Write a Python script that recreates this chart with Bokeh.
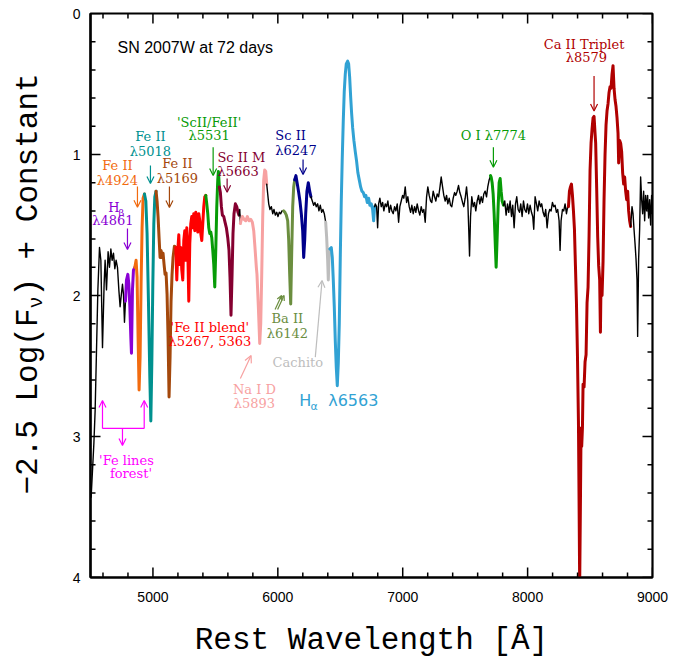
import math
from bokeh.plotting import figure
from bokeh.layouts import row
from bokeh.models import Range1d, FixedTicker, Label, Arrow, OpenHead
from bokeh.core.properties import value
from bokeh.embed import file_html
from bokeh.resources import INLINE

# ---------------- data (rest wavelength [A], -2.5 log F + const) ----------------
wl_black1 = [4505, 4516, 4527, 4537, 4548, 4559, 4572, 4583, 4596, 4609, 4617, 4628, 4641, 4652, 4663, 4673, 4684, 4695, 4705, 4716, 4727, 4737, 4745, 4756, 4764, 4772, 4780]
fx_black1 = [3.43, 3.24, 3.05, 2.82, 2.39, 1.96, 1.66, 1.75, 2.37, 1.92, 1.75, 1.96, 1.69, 1.80, 1.67, 1.75, 1.70, 1.81, 1.75, 1.80, 1.96, 2.08, 2.01, 1.92, 1.99, 2.19, 2.04]
wl_hbeta = [4780, 4788, 4799, 4807, 4815, 4823, 4828, 4836, 4844, 4855]
fx_hbeta = [2.04, 1.89, 1.85, 1.92, 2.08, 2.30, 2.41, 1.96, 1.82, 1.80]
wl_fe4924 = [4855, 4865, 4873, 4881, 4889, 4897, 4905, 4913, 4921, 4932]
fx_fe4924 = [1.80, 1.75, 1.87, 2.30, 2.67, 2.44, 1.92, 1.52, 1.31, 1.28]
wl_fe5018 = [4932, 4943, 4953, 4964, 4975, 4983, 4991, 4999, 5007, 5015, 5025]
fx_fe5018 = [1.28, 1.33, 1.56, 2.04, 2.58, 2.89, 2.48, 1.92, 1.49, 1.30, 1.26]
wl_fe5169 = [5025, 5033, 5041, 5049, 5057, 5065, 5073, 5081, 5089, 5097, 5105, 5113, 5121, 5129, 5137, 5145, 5153, 5161, 5172, 5183]
fx_fe5169 = [1.26, 1.33, 1.44, 1.59, 1.73, 1.68, 1.73, 1.70, 1.78, 1.85, 1.84, 1.99, 2.30, 2.72, 2.44, 2.04, 1.85, 1.73, 1.65, 1.66]
wl_feblend = [5183, 5191, 5199, 5207, 5215, 5223, 5231, 5239, 5247, 5255, 5263, 5271, 5279, 5287, 5295, 5303, 5311, 5319, 5327, 5335, 5343, 5351, 5359, 5367, 5375, 5383, 5391, 5399, 5407, 5415, 5423]
fx_feblend = [1.66, 1.89, 1.68, 1.57, 1.78, 1.66, 1.82, 1.89, 1.61, 1.54, 1.75, 1.52, 1.68, 2.04, 1.63, 1.49, 1.44, 1.52, 1.42, 1.54, 1.41, 1.47, 1.55, 1.42, 1.47, 1.56, 1.61, 1.49, 1.37, 1.30, 1.29]
wl_scfe = [5423, 5431, 5439, 5447, 5455, 5463, 5471, 5479, 5487, 5495, 5503, 5511, 5519, 5524, 5532]
fx_scfe = [1.29, 1.35, 1.42, 1.52, 1.56, 1.55, 1.59, 1.68, 1.78, 1.94, 1.68, 1.37, 1.18, 1.12, 1.23]
wl_sc5663 = [5532, 5540, 5548, 5556, 5567, 5577, 5588, 5599, 5609, 5617, 5625, 5633, 5641, 5649, 5660, 5671, 5681, 5689]
fx_sc5663 = [1.23, 1.27, 1.37, 1.43, 1.44, 1.48, 1.52, 1.59, 1.68, 1.87, 2.14, 1.87, 1.56, 1.42, 1.35, 1.37, 1.41, 1.43]
wl_black2 = [5689, 5695, 5700]
fx_black2 = [1.43, 1.39, 1.49]
wl_nad = [5700, 5705, 5716, 5729, 5743, 5756, 5769, 5783, 5796, 5807, 5817, 5828, 5833, 5844, 5855, 5863, 5871, 5879, 5887, 5895, 5903, 5911]
fx_nad = [1.49, 1.47, 1.44, 1.46, 1.47, 1.44, 1.47, 1.46, 1.48, 1.54, 1.66, 1.80, 1.85, 2.08, 2.34, 2.20, 1.85, 1.44, 1.18, 1.11, 1.12, 1.21]
wl_black3 = [5911, 5919, 5927, 5937, 5948, 5959, 5969, 5980, 5991, 6001, 6012, 6023, 6033, 6047]
fx_black3 = [1.21, 1.28, 1.35, 1.39, 1.37, 1.42, 1.39, 1.43, 1.41, 1.44, 1.41, 1.42, 1.40, 1.40]
wl_ba = [6047, 6057, 6068, 6079, 6087, 6095, 6103, 6111, 6119, 6127, 6135]
fx_ba = [1.40, 1.41, 1.43, 1.47, 1.61, 1.85, 2.06, 1.70, 1.37, 1.23, 1.18]
wl_sc6247 = [6135, 6145, 6156, 6167, 6177, 6188, 6199, 6207, 6215, 6223, 6233, 6244, 6255, 6265]
fx_sc6247 = [1.18, 1.15, 1.21, 1.27, 1.33, 1.42, 1.54, 1.73, 1.61, 1.42, 1.26, 1.20, 1.26, 1.30]
wl_black4 = [6265, 6276, 6287, 6297, 6308, 6319, 6329, 6340, 6351, 6361, 6372, 6383]
fx_black4 = [1.30, 1.33, 1.36, 1.34, 1.37, 1.35, 1.40, 1.36, 1.41, 1.39, 1.42, 1.48]
wl_cachito = [6383, 6391, 6399, 6404, 6409, 6417]
fx_cachito = [1.48, 1.59, 1.75, 1.89, 1.75, 1.67]
wl_halpha = [6417, 6428, 6436, 6444, 6452, 6460, 6468, 6476, 6484, 6492, 6500, 6508, 6516, 6524, 6532, 6540, 6548, 6559, 6567, 6575,
             6583, 6591, 6599, 6609, 6620, 6631, 6641, 6652, 6663, 6673, 6684, 6695, 6705, 6716, 6727, 6737, 6748, 6759, 6767, 6775]
fx_halpha = [1.67, 1.66, 1.73, 1.89, 2.08, 2.32, 2.51, 2.64, 2.48, 2.20, 1.73, 1.33, 1.02, 0.76, 0.55, 0.43, 0.357, 0.338, 0.357, 0.45,
             0.59, 0.71, 0.81, 0.90, 0.98, 1.05, 1.13, 1.18, 1.23, 1.26, 1.27, 1.30, 1.29, 1.34, 1.31, 1.36, 1.35, 1.39, 1.47, 1.37]
wl_black5 = [6775, 6780, 6791, 6799, 6807, 6817, 6828, 6839, 6849, 6860, 6871, 6881, 6892, 6903, 6913, 6924, 6935, 6945, 6956, 6967,
             6977, 6988, 6999, 7009, 7020, 7031, 7041, 7052, 7063, 7073, 7084, 7095, 7105, 7116, 7127, 7137, 7148, 7159, 7169, 7180,
             7191, 7201, 7212, 7223, 7233, 7244, 7255, 7265, 7276, 7287, 7297, 7308, 7319, 7329, 7340, 7351, 7361, 7372, 7383, 7393,
             7404, 7415, 7425, 7436, 7447, 7457, 7468, 7479, 7489, 7500, 7511, 7521, 7529, 7535, 7543, 7553, 7564, 7575, 7585, 7596,
             7607, 7617, 7628, 7639, 7649, 7660, 7671, 7681, 7692, 7703]
fx_black5 = [1.37, 1.35, 1.37, 1.52, 1.35, 1.31, 1.37, 1.34, 1.40, 1.35, 1.37, 1.33, 1.41, 1.36, 1.40, 1.42, 1.37, 1.40, 1.35, 1.48,
             1.37, 1.33, 1.29, 1.31, 1.23, 1.34, 1.30, 1.37, 1.41, 1.36, 1.42, 1.37, 1.41, 1.35, 1.40, 1.43, 1.37, 1.41, 1.39, 1.48,
             1.30, 1.23, 1.29, 1.33, 1.34, 1.26, 1.30, 1.33, 1.28, 1.30, 1.24, 1.16, 1.23, 1.29, 1.33, 1.29, 1.35, 1.31, 1.36, 1.37,
             1.31, 1.27, 1.29, 1.26, 1.22, 1.27, 1.30, 1.34, 1.37, 1.31, 1.23, 1.33, 1.54, 1.72, 1.44, 1.30, 1.37, 1.34, 1.40, 1.33,
             1.29, 1.35, 1.30, 1.34, 1.28, 1.26, 1.30, 1.23, 1.18, 1.15]
wl_oi = [7703, 7708, 7716, 7724, 7732, 7740, 7748, 7756, 7764, 7772, 7780, 7788, 7796, 7807]
fx_oi = [1.15, 1.16, 1.20, 1.28, 1.42, 1.61, 1.80, 1.59, 1.37, 1.20, 1.17, 1.26, 1.33, 1.36]
wl_black6 = [7807, 7817, 7828, 7839, 7849, 7860, 7871, 7881, 7892, 7903, 7913, 7924, 7935, 7945, 7956, 7967, 7977, 7988, 7999, 8009,
             8020, 8031, 8041, 8049, 8060, 8071, 8081, 8092, 8103, 8113, 8124, 8135, 8145, 8156, 8167, 8177, 8188, 8199, 8209, 8220,
             8231, 8241, 8252, 8260, 8268, 8279, 8289, 8300, 8311, 8321, 8327]
fx_black6 = [1.36, 1.33, 1.43, 1.35, 1.41, 1.33, 1.44, 1.36, 1.52, 1.35, 1.30, 1.39, 1.41, 1.35, 1.44, 1.33, 1.39, 1.41, 1.35, 1.42,
             1.36, 1.41, 1.44, 1.53, 1.30, 1.35, 1.40, 1.33, 1.37, 1.35, 1.41, 1.44, 1.39, 1.52, 1.42, 1.39, 1.40, 1.34, 1.37, 1.36,
             1.41, 1.39, 1.47, 1.68, 1.47, 1.39, 1.40, 1.35, 1.42, 1.37, 1.37]
wl_caii = [8327, 8335, 8343, 8351, 8359, 8367, 8375, 8383, 8391, 8399, 8407, 8412, 8417, 8423, 8428, 8433, 8439, 8444, 8452, 8460,
           8468, 8476, 8484, 8492, 8500, 8508, 8516, 8524, 8532, 8540, 8545, 8553, 8561, 8569, 8577, 8583, 8588, 8596, 8604, 8612,
           8620, 8628, 8636, 8644, 8652, 8660, 8668, 8676, 8684, 8692, 8700, 8708, 8716, 8724, 8729, 8737, 8745, 8753, 8761, 8769,
           8777, 8785, 8793, 8801, 8809, 8817, 8825]
fx_caii = [1.37, 1.26, 1.23, 1.21, 1.29, 1.40, 1.53, 1.79, 2.05, 2.42, 2.89, 3.46, 4.05, 3.46, 2.94, 3.07, 2.94, 2.63, 2.65, 2.47,
           2.42, 2.05, 1.94, 1.58, 1.11, 0.92, 0.82, 0.74, 0.73, 0.85, 0.92, 1.24, 1.58, 1.79, 1.89, 2.26, 1.89, 2.00, 1.76, 1.32,
           1.00, 0.79, 0.69, 0.64, 0.56, 0.52, 0.53, 0.43, 0.37, 0.53, 0.61, 0.66, 0.74, 0.85, 1.06, 0.90, 0.92, 0.98, 1.13, 1.21,
           1.16, 1.26, 1.32, 1.26, 1.40, 1.47, 1.51]
wl_black7 = [8825, 8836, 8844, 8852, 8860, 8868, 8876, 8881, 8889, 8897, 8905, 8913, 8921, 8929, 8937, 8945, 8953, 8961, 8969, 8977, 8985, 8993, 8999]
fx_black7 = [1.51, 1.37, 1.42, 1.53, 1.63, 1.74, 1.89, 2.29, 1.74, 1.53, 1.16, 1.32, 1.42, 1.26, 1.47, 1.29, 1.40, 1.29, 1.45, 1.32, 1.50, 1.29, 1.42]

x_major = [5000, 6000, 7000, 8000, 9000]
x_minor = [4600, 4800, 5200, 5400, 5600, 5800, 6200, 6400, 6600, 6800, 7200, 7400, 7600, 7800, 8200, 8400, 8600, 8800]
y_major = [0, 1, 2, 3, 4]
y_minor = [0.2, 0.4, 0.6, 0.8, 1.2, 1.4, 1.6, 1.8, 2.2, 2.4, 2.6, 2.8, 3.2, 3.4, 3.6, 3.8]

y_title_parts = ["−2.5 Log(F", "ν", ") + Constant"]

# ---------------- styles ----------------
C_BLACK = "#000000"
C_HB = "#8A00D4"
C_OR = "#F26B0F"
C_TEAL = "#00918F"
C_BROWN = "#A4480C"
C_RED = "#FF0000"
C_GREEN = "#079B07"
C_MAROON = "#850030"
C_PINK = "#F7A1A1"
C_OLIVE = "#6B8E3F"
C_NAVY = "#00008B"
C_GREY = "#BDBDBD"
C_HA = "#31A2D4"
C_CA = "#B00000"
C_MAG = "#FF00FF"

segments = [
    (wl_black1, fx_black1, C_BLACK, 1.4),
    (wl_hbeta, fx_hbeta, C_HB, 3.0),
    (wl_fe4924, fx_fe4924, C_OR, 3.0),
    (wl_fe5018, fx_fe5018, C_TEAL, 3.0),
    (wl_fe5169, fx_fe5169, C_BROWN, 3.0),
    (wl_feblend, fx_feblend, C_RED, 3.0),
    (wl_scfe, fx_scfe, C_GREEN, 3.0),
    (wl_sc5663, fx_sc5663, C_MAROON, 3.0),
    (wl_black2, fx_black2, C_BLACK, 1.4),
    (wl_nad, fx_nad, C_PINK, 3.0),
    (wl_black3, fx_black3, C_BLACK, 1.4),
    (wl_ba, fx_ba, C_OLIVE, 3.0),
    (wl_sc6247, fx_sc6247, C_NAVY, 3.0),
    (wl_black4, fx_black4, C_BLACK, 1.4),
    (wl_cachito, fx_cachito, C_GREY, 3.0),
    (wl_halpha, fx_halpha, C_HA, 3.0),
    (wl_black5, fx_black5, C_BLACK, 1.4),
    (wl_oi, fx_oi, C_GREEN, 3.0),
    (wl_black6, fx_black6, C_BLACK, 1.4),
    (wl_caii, fx_caii, C_CA, 3.0),
    (wl_black7, fx_black7, C_BLACK, 1.4),
]

X0, X1, Y0, Y1 = 4500, 9000, 0, 4
TOP, BOTTOM = 13, 86
FRAME_W, FRAME_H = 562, 663 - TOP - BOTTOM

p = figure(width=627, height=663, x_range=Range1d(X0, X1), y_range=Range1d(Y1, Y0),
           output_backend="svg", toolbar_location=None,
           min_border_left=40, min_border_right=25, min_border_top=TOP, min_border_bottom=BOTTOM,
           background_fill_color="white", border_fill_color="white")
p.grid.visible = False
p.outline_line_color = "black"
p.outline_line_width = 2.2

for wl, fx, col, lw in segments:
    p.line(wl, fx, line_color=col, line_width=lw, line_join="round", line_cap="round")

# axes (labels) -----------------------------------------------------------
for ax in (p.xaxis[0], p.yaxis[0]):
    ax.axis_line_width = 2.2
    ax.axis_line_color = "black"
    ax.major_tick_in = 0
    ax.major_tick_out = 0
    ax.minor_tick_in = 0
    ax.minor_tick_out = 0
    ax.major_label_text_font = "Liberation Sans"
    ax.major_label_text_font_size = "14px"
    ax.major_label_text_color = "black"
p.xaxis.ticker = FixedTicker(ticks=x_major, minor_ticks=x_minor)
p.yaxis.ticker = FixedTicker(ticks=y_major, minor_ticks=y_minor)
p.xaxis.major_label_standoff = 14
p.yaxis.major_label_standoff = 10
p.xaxis.axis_label = "Rest Wavelength [Å]"
p.xaxis.axis_label_text_font = "Liberation Mono"
p.xaxis.axis_label_text_font_size = "31px"
p.xaxis.axis_label_text_font_style = "normal"
p.xaxis.axis_label_text_color = "black"
p.xaxis.axis_label_standoff = 18

# inward ticks on all four sides ------------------------------------------
dy_major = 10 * (Y1 - Y0) / FRAME_H
dy_minor = 5 * (Y1 - Y0) / FRAME_H
dx_major = 10 * (X1 - X0) / FRAME_W
dx_minor = 5 * (X1 - X0) / FRAME_W
tick_kw = dict(line_color="black", line_width=1.5)
p.segment(x0=x_major, y0=[Y1] * len(x_major), x1=x_major, y1=[Y1 - dy_major] * len(x_major), **tick_kw)
p.segment(x0=x_minor, y0=[Y1] * len(x_minor), x1=x_minor, y1=[Y1 - dy_minor] * len(x_minor), **tick_kw)
p.segment(x0=x_major, y0=[Y0] * len(x_major), x1=x_major, y1=[Y0 + dy_major] * len(x_major), **tick_kw)
p.segment(x0=x_minor, y0=[Y0] * len(x_minor), x1=x_minor, y1=[Y0 + dy_minor] * len(x_minor), **tick_kw)
p.segment(x0=[X0] * len(y_major), y0=y_major, x1=[X0 + dx_major] * len(y_major), y1=y_major, **tick_kw)
p.segment(x0=[X0] * len(y_minor), y0=y_minor, x1=[X0 + dx_minor] * len(y_minor), y1=y_minor, **tick_kw)
p.segment(x0=[X1] * len(y_major), y0=y_major, x1=[X1 - dx_major] * len(y_major), y1=y_major, **tick_kw)
p.segment(x0=[X1] * len(y_minor), y0=y_minor, x1=[X1 - dx_minor] * len(y_minor), y1=y_minor, **tick_kw)

SERIF = "DejaVu Serif"


def lab(x, y, text, color, size="13px", align="center", font=SERIF):
    p.add_layout(Label(x=x, y=y, text=text, text_color=color, text_font=font, text_font_size=size,
                       text_align=align, text_baseline="middle"))


def arr(x0, y0, x1, y1, color, size=7):
    p.add_layout(Arrow(x_start=x0, y_start=y0, x_end=x1, y_end=y1, line_color=color, line_width=1.2,
                       end=OpenHead(size=size, line_color=color, line_width=1.2)))


lab(4716, 0.241, "SN 2007W at 72 days", "black", size="16px", align="left", font="Liberation Sans")

lab(4716, 1.078, "Fe II", C_OR)
lab(4716, 1.184, "λ4924", C_OR)
arr(4876, 1.227, 4876, 1.374, C_OR)

lab(4980, 0.872, "Fe II", C_TEAL)
lab(4980, 0.979, "λ5018", C_TEAL)
arr(4980, 1.078, 4980, 1.206, C_TEAL)

lab(5196, 1.064, "Fe II", C_BROWN)
lab(5196, 1.170, "λ5169", C_BROWN)
arr(5132, 1.227, 5132, 1.376, C_BROWN)

lab(4688, 1.376, "H", C_HB)
lab(4724, 1.41, "β", C_HB, size="10px", align="left")
lab(4680, 1.468, "λ4861", C_HB)
arr(4796, 1.525, 4796, 1.674, C_HB)

lab(5450, 0.771, "'ScII/FeII'", C_GREEN)
lab(5450, 0.865, "λ5531", C_GREEN)
arr(5482, 0.948, 5482, 1.149, C_GREEN)

lab(5516, 1.019, "Sc II M", C_MAROON, align="left")
lab(5516, 1.118, "λ5663", C_MAROON, align="left")
arr(5594, 1.17, 5594, 1.267, C_MAROON)

lab(5980, 0.865, "Sc II", C_NAVY, align="left")
lab(5980, 0.972, "λ6247", C_NAVY, align="left")
arr(6202, 1.035, 6202, 1.142, C_NAVY)

lab(5456, 2.225, "'Fe II blend'", C_RED)
lab(5456, 2.324, "λ5267, 5363", C_RED)

lab(5812, 2.669, "Na I D", C_PINK)
lab(5812, 2.764, "λ5893", C_PINK)
arr(5700, 2.589, 5786, 2.426, C_PINK)

lab(6076, 2.165, "Ba II", C_OLIVE)
lab(6076, 2.272, "λ6142", C_OLIVE)
arr(5978, 2.10, 6030, 2.00, C_OLIVE, size=5)
arr(5998, 2.10, 6050, 2.00, C_OLIVE, size=5)

lab(6160, 2.473, "Cachito", C_GREY)
arr(6300, 2.437, 6354, 1.894, C_GREY)

lab(6220, 2.745, "H", C_HA, size="16px", font="DejaVu Sans")
lab(6262, 2.79, "α", C_HA, size="11px", align="left", font="DejaVu Sans")
lab(6604, 2.745, "λ6563", C_HA, size="16px", font="DejaVu Sans")

lab(7726, 0.865, "O I λ7774", C_GREEN)
arr(7726, 0.948, 7726, 1.09, C_GREEN)

lab(8452, 0.22, "Ca II Triplet", C_CA)
lab(8470, 0.312, "λ8579", C_CA)
arr(8532, 0.443, 8532, 0.692, C_CA)

# 'Fe lines forest' bracket
arr(4596, 2.943, 4596, 2.745, C_MAG)
arr(4930, 2.943, 4930, 2.745, C_MAG)
p.line([4596, 4930], [2.943, 2.943], line_color=C_MAG, line_width=1.2)
arr(4756, 2.943, 4756, 3.064, C_MAG)
lab(4788, 3.17, "'Fe lines", C_MAG)
lab(4824, 3.262, "forest'", C_MAG)

# ---------------- y-axis title panel (with subscript nu) ----------------
# its frame is aligned with the main frame (rows align frames), so the y range is given in
# page-pixel rows (top of frame = 13, bottom = 577) to place the title pieces.
ylab = figure(width=50, height=663, x_range=Range1d(0, 50), y_range=Range1d(663 - BOTTOM, TOP),
              output_backend="svg", toolbar_location=None, x_axis_type=None, y_axis_type=None,
              min_border_left=0, min_border_right=0, min_border_top=TOP, min_border_bottom=BOTTOM,
              background_fill_color="white", border_fill_color="white")
ylab.outline_line_color = None
ylab.grid.visible = False
YF = "Liberation Mono"
ylab.text(x=[28], y=[401], text=[y_title_parts[0]], angle=math.pi / 2, text_font=value(YF),
          text_font_size="31px", text_align="center", text_baseline="middle", text_color="black")
ylab.text(x=[36], y=[302], text=[y_title_parts[1]], angle=math.pi / 2, text_font=value(YF),
          text_font_size="20px", text_align="center", text_baseline="middle", text_color="black")
ylab.text(x=[28], y=[184.5], text=[y_title_parts[2]], angle=math.pi / 2, text_font=value(YF),
          text_font_size="31px", text_align="center", text_baseline="middle", text_color="black")

layout = row(ylab, p, spacing=0)
open("out.html", "w").write(file_html(layout, INLINE))
